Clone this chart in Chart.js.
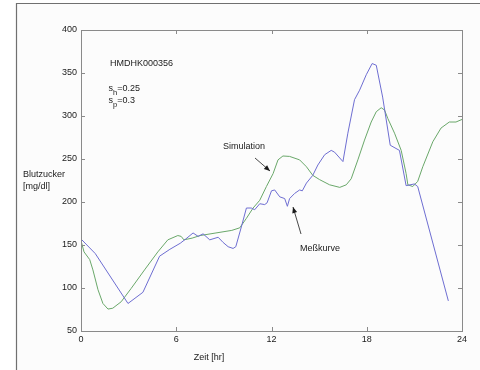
<!DOCTYPE html>
<html>
<head>
<meta charset="utf-8">
<script src="https://cdn.jsdelivr.net/npm/chart.js@4/dist/chart.umd.min.js"></script>
<style>
  html, body { margin: 0; padding: 0; background: #ffffff; }
  #wrap { width: 480px; height: 370px; position: relative; }
</style>
</head>
<body>
<div id="wrap"><canvas id="c" width="480" height="370"></canvas></div>
<script>
// ---- data ----
const messTimes = [0, 0.9, 2.96, 3.9, 4.95, 5.6, 6.25, 6.6, 7.06, 7.38, 7.69, 8.11, 8.64, 8.95, 9.27, 9.58, 9.75, 10.1, 10.42, 10.73, 10.94, 11.26, 11.57, 11.72, 12.0, 12.2, 12.52, 12.83, 13.0, 13.14, 13.46, 13.77, 13.94, 14.2, 14.6, 14.92, 15.35, 15.76, 15.97, 16.5, 16.81, 17.23, 17.55, 17.97, 18.34, 18.6, 19.0, 19.48, 20.06, 20.48, 21.0, 21.21, 23.14];
const messValues = [157, 140, 82, 95, 137, 145, 152, 157, 164, 160, 163, 156, 159, 153, 148, 146, 148, 171, 193, 193, 191, 198, 197, 199, 213, 214, 206, 204, 195, 204, 210, 214, 213, 222, 231, 243, 255, 260, 258, 247, 280, 319, 330, 348, 361, 359, 322, 266, 260, 219, 221, 218, 85];

const simTimes = [0, 0.19, 0.55, 0.75, 1.07, 1.38, 1.7, 2.0, 2.53, 3.16, 4.0, 4.84, 5.47, 6.1, 6.31, 6.48, 7.0, 7.5, 8.5, 9.5, 10.0, 10.42, 10.84, 11.26, 11.68, 12.1, 12.41, 12.72, 13.14, 13.77, 14.2, 14.6, 15.03, 15.66, 16.3, 16.71, 17.02, 17.44, 17.86, 18.28, 18.6, 18.91, 19.12, 19.33, 19.75, 20.17, 20.48, 20.59, 20.9, 21.21, 21.53, 22.16, 22.68, 23.2, 23.62, 24];
const simValues = [155, 142, 133, 121, 98, 82, 75.5, 76.5, 84, 99.5, 121, 142, 156, 161, 160, 156, 158, 161, 164, 167, 170, 181, 193, 202, 218, 233, 249, 253.5, 253, 249, 241, 231, 226, 220, 217, 220, 227, 249, 272, 293, 305, 309.6, 307, 297, 280, 260, 233, 220, 218, 224, 241, 270, 286, 293, 293, 296];

const xTicks = [0, 6, 12, 18, 24];
const yTicks = [50, 100, 150, 200, 250, 300, 350, 400];

const seriesNames = ['Meßkurve', 'Simulation'];
const title = 'HMDHK000356';
const yLabel = ['Blutzucker', '[mg/dl]'];
const xLabel = 'Zeit [hr]';

const toPts = (ts, vs) => ts.map((t, i) => ({ x: t, y: vs[i] }));

const FONT = '"Liberation Sans", Arial, sans-serif';

function arrow(ctx, x1, y1, x2, y2) {
  ctx.beginPath();
  ctx.moveTo(x1, y1);
  ctx.lineTo(x2, y2);
  ctx.stroke();
  const a = Math.atan2(y2 - y1, x2 - x1);
  const L = 6, W = 2.5;
  ctx.beginPath();
  ctx.moveTo(x2, y2);
  ctx.lineTo(x2 - L * Math.cos(a) + W * Math.sin(a), y2 - L * Math.sin(a) - W * Math.cos(a));
  ctx.lineTo(x2 - L * Math.cos(a) - W * Math.sin(a), y2 - L * Math.sin(a) + W * Math.cos(a));
  ctx.closePath();
  ctx.fill();
}

const decor = {
  id: 'decor',
  beforeDraw(chart) {
    const ctx = chart.ctx;
    ctx.save();
    ctx.fillStyle = '#ffffff';
    ctx.fillRect(0, 0, chart.width, chart.height);
    ctx.fillStyle = '#fcfcfc';
    ctx.fillRect(16, 3, chart.width - 16, chart.height - 3);
    ctx.strokeStyle = '#707070';
    ctx.lineWidth = 1.2;
    ctx.beginPath();
    ctx.moveTo(16.5, chart.height + 2);
    ctx.lineTo(16.5, 3.5);
    ctx.lineTo(chart.width + 2, 3.5);
    ctx.stroke();
    ctx.restore();
  },
  afterDraw(chart) {
    const ctx = chart.ctx;
    const a = chart.chartArea;
    const xs = chart.scales.x, ys = chart.scales.y;
    ctx.save();
    ctx.strokeStyle = '#8a8a8a';
    ctx.lineWidth = 1;
    ctx.strokeRect(Math.round(a.left) + 0.5, Math.round(a.top) + 0.5, Math.round(a.right - a.left), Math.round(a.bottom - a.top));
    const tl = 4;
    ctx.beginPath();
    xTicks.forEach(v => {
      const px = Math.round(xs.getPixelForValue(v)) + 0.5;
      ctx.moveTo(px, a.bottom); ctx.lineTo(px, a.bottom - tl);
      ctx.moveTo(px, a.top); ctx.lineTo(px, a.top + tl);
    });
    yTicks.forEach(v => {
      const py = Math.round(ys.getPixelForValue(v)) + 0.5;
      ctx.moveTo(a.left, py); ctx.lineTo(a.left + tl, py);
      ctx.moveTo(a.right, py); ctx.lineTo(a.right - tl, py);
    });
    ctx.stroke();

    // texts
    ctx.fillStyle = '#1a1a1a';
    ctx.textBaseline = 'middle';
    ctx.textAlign = 'left';
    ctx.font = '9px ' + FONT;
    ctx.fillText(title, 110, 64);
    ctx.fillText(yLabel[0], 23, 175);
    ctx.fillText(yLabel[1], 23, 186.5);
    ctx.textAlign = 'center';
    ctx.fillText(xLabel, 209, 358);
    ctx.textAlign = 'left';
    ctx.fillText(seriesNames[1], 223, 147);
    ctx.fillText(seriesNames[0], 300, 249);

    // s_h, s_p
    const sub = (base, s, rest, x, y) => {
      ctx.font = '9px ' + FONT;
      ctx.fillText(base, x, y);
      let w = ctx.measureText(base).width;
      ctx.font = '7.5px ' + FONT;
      ctx.fillText(s, x + w, y + 4);
      w += ctx.measureText(s).width;
      ctx.font = '9px ' + FONT;
      ctx.fillText(rest, x + w, y);
    };
    sub('s', 'h', '=0.25', 108.5, 88.5);
    sub('s', 'p', '=0.3', 108.5, 100.5);

    // arrows
    ctx.strokeStyle = '#1a1a1a';
    ctx.fillStyle = '#1a1a1a';
    ctx.lineWidth = 0.8;
    arrow(ctx, 255, 158, 270, 171);
    arrow(ctx, 301, 234, 293, 207);
    ctx.restore();
  }
};

new Chart(document.getElementById('c'), {
  type: 'line',
  data: {
    datasets: [
      { label: seriesNames[0], data: toPts(messTimes, messValues), borderColor: '#6e6ed2', borderWidth: 1, pointRadius: 0, tension: 0, fill: false },
      { label: seriesNames[1], data: toPts(simTimes, simValues), borderColor: '#6aa86a', borderWidth: 1, pointRadius: 0, tension: 0, fill: false }
    ]
  },
  options: {
    responsive: false,
    animation: false,
    devicePixelRatio: 1,
    layout: { padding: { left: 0, top: 30, right: 18, bottom: 0 } },
    plugins: { legend: { display: false }, tooltip: { enabled: false } },
    scales: {
      x: {
        type: 'linear', min: 0, max: 24,
        afterBuildTicks: s => { s.ticks = xTicks.map(v => ({ value: v })); },
        afterFit: s => { s.height = 39; },
        grid: { display: false, drawTicks: false },
        border: { display: false },
        ticks: { padding: 3, color: '#1a1a1a', font: { family: FONT, size: 9 }, maxRotation: 0 }
      },
      y: {
        type: 'linear', min: 50, max: 400,
        afterBuildTicks: s => { s.ticks = yTicks.map(v => ({ value: v })); },
        afterFit: s => { s.width = 81; },
        grid: { display: false, drawTicks: false },
        border: { display: false },
        ticks: { padding: 4, color: '#1a1a1a', font: { family: FONT, size: 9 } }
      }
    }
  },
  plugins: [decor]
});
</script>
</body>
</html>
